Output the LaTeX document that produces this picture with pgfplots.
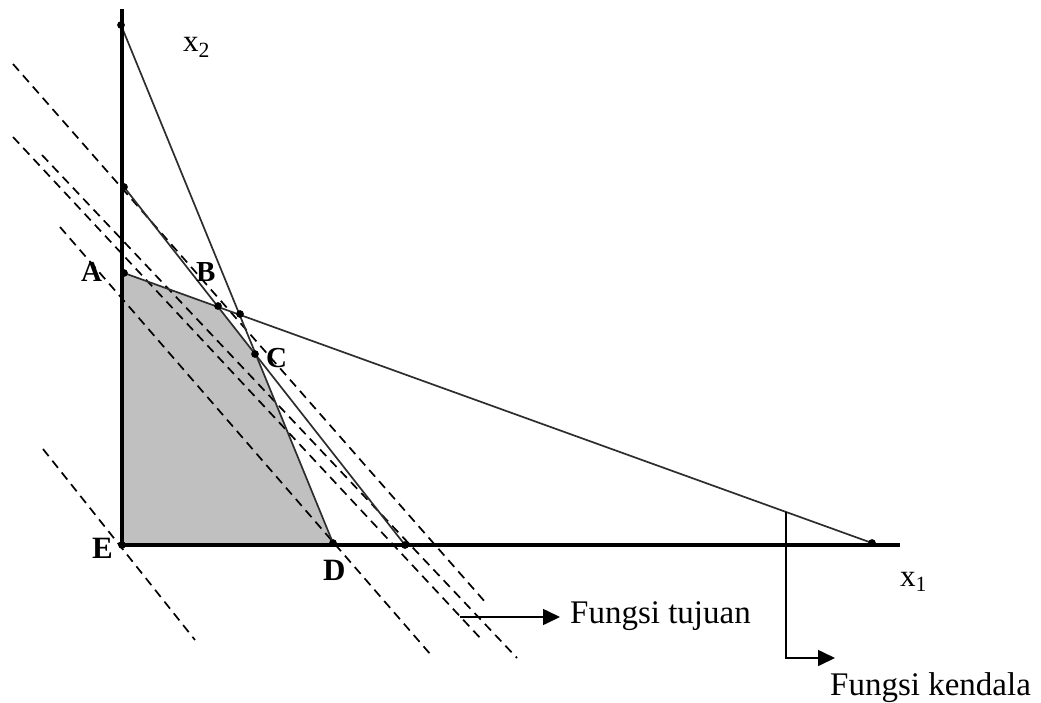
\documentclass[border=0pt]{standalone}
\usepackage{fontspec}
\setmainfont{Liberation Serif}
\usepackage{pgfplots}
\pgfplotsset{compat=1.18}
\usetikzlibrary{arrows.meta}
\definecolor{region}{RGB}{192,192,192}
\definecolor{cline}{RGB}{45,45,45}
\begin{document}
\begin{tikzpicture}
\begin{axis}[scale only axis, width=1041bp, height=703bp,
  xmin=0, xmax=1041, ymin=0, ymax=703, y dir=reverse,
  hide axis, clip=false]
% page extent
\addplot[draw=none, forget plot] coordinates {(0,0) (1041,703)};
% feasible region
\addplot[draw=none, fill=region] coordinates {(122,545) (122,273) (218,307) (256,355) (333,545)} -- cycle;
% objective function lines (dashed)
\addplot[black, line width=1.7bp, dash pattern=on 9bp off 6bp] coordinates {(13,64) (486,603)};
\addplot[black, line width=1.7bp, dash pattern=on 9bp off 6bp] coordinates {(13,137) (483,641)};
\addplot[black, line width=1.7bp, dash pattern=on 9bp off 6bp] coordinates {(42,155) (517,658)};
\addplot[black, line width=1.7bp, dash pattern=on 9bp off 6bp] coordinates {(60,227) (431,655)};
\addplot[black, line width=1.7bp, dash pattern=on 9bp off 6bp] coordinates {(43,449) (195,640)};
% constraint lines
\addplot[cline, line width=1.7bp] coordinates {(121,25) (333,543)};
\addplot[cline, line width=1.7bp] coordinates {(124,187) (405,545)};
\addplot[cline, line width=1.7bp] coordinates {(124,273) (872,543)};
% axes
\addplot[black, line width=4bp] coordinates {(122,9) (122,545)};
\addplot[black, line width=4bp] coordinates {(120,545) (900,545)};
% points
\addplot[only marks, mark=*, mark size=3.6bp, black] coordinates {
(121,25) (124,187) (124,273) (218,306) (240,314) (255,354) (333,543) (405,545) (872,543) (122,545)};
% arrows
\addplot[black, line width=1.6bp, -{Triangle[length=17bp,width=16bp]}] coordinates {(460,617) (560,617)};
\addplot[black, line width=1.6bp, -{Triangle[length=17bp,width=16bp]}] coordinates {(786,512) (786,658) (835,658)};
% labels
\node[anchor=base west, inner sep=0pt, font=\fontsize{31bp}{36bp}\selectfont] at (axis cs:183,52) {x\textsubscript{2}};
\node[anchor=base west, inner sep=0pt, font=\fontsize{31bp}{36bp}\selectfont] at (axis cs:900,586) {x\textsubscript{1}};
\node[anchor=base west, inner sep=0pt, font=\fontsize{29bp}{34bp}\selectfont\bfseries] at (axis cs:81,281) {A};
\node[anchor=base west, inner sep=0pt, font=\fontsize{29bp}{34bp}\selectfont\bfseries] at (axis cs:196,281) {B};
\node[anchor=base west, inner sep=0pt, font=\fontsize{29bp}{34bp}\selectfont\bfseries] at (axis cs:266,367) {C};
\node[anchor=base west, inner sep=0pt, font=\fontsize{31bp}{36bp}\selectfont\bfseries] at (axis cs:323,580) {D};
\node[anchor=base west, inner sep=0pt, font=\fontsize{31bp}{36bp}\selectfont\bfseries] at (axis cs:92,558) {E};
\node[anchor=base west, inner sep=0pt, font=\fontsize{33bp}{40bp}\selectfont] at (axis cs:570,623) {Fungsi tujuan};
\node[anchor=base west, inner sep=0pt, font=\fontsize{33bp}{40bp}\selectfont] at (axis cs:830,695) {Fungsi kendala};
\end{axis}
\end{tikzpicture}
\end{document}
